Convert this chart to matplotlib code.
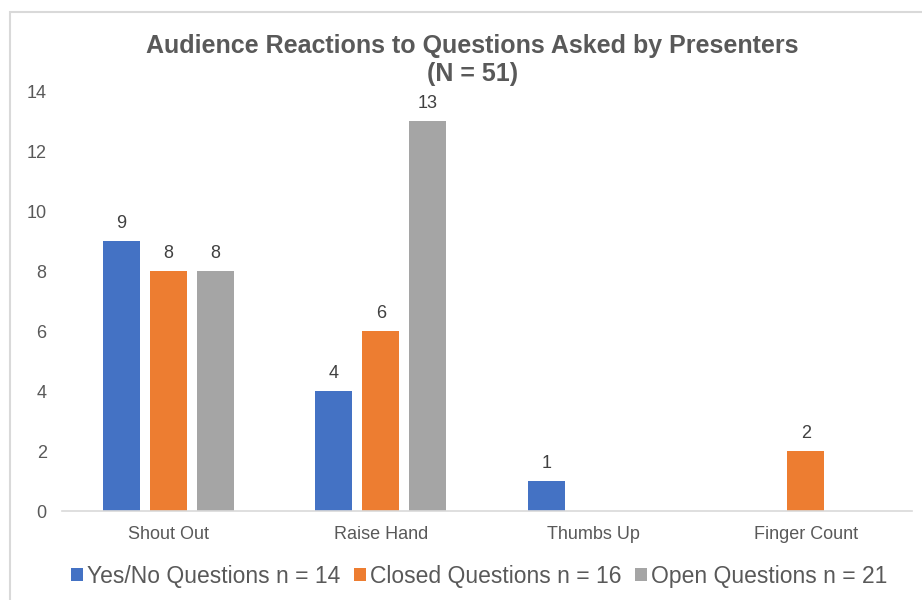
import matplotlib
matplotlib.use("Agg")
import matplotlib.pyplot as plt
import numpy as np
from matplotlib.patches import Rectangle

plt.rcParams['font.family'] = ['Liberation Sans', 'DejaVu Sans']

categories = ["Shout Out", "Raise Hand", "Thumbs Up", "Finger Count"]
series_names = ["Yes/No Questions n = 14", "Closed Questions n = 16", "Open Questions n = 21"]
yes_no = [9, 4, 1, 0]
closed = [8, 6, 0, 2]
open_q = [8, 13, 0, 0]
colors = ["#4472C4", "#ED7D31", "#A5A5A5"]

text_color = "#595959"

fig = plt.figure(figsize=(9.22, 6.0), dpi=100)
ax = fig.add_axes([0.0672, 0.148, 0.922, 0.70])

x = np.arange(len(categories))
width = 0.174
step = 0.221
for i, (vals, name, c) in enumerate(zip([yes_no, closed, open_q], series_names, colors)):
    pos = x + (i - 1) * step
    keep = [j for j, v in enumerate(vals) if v > 0]
    ax.bar(pos[keep], [vals[j] for j in keep], width, color=c, label=name)
    for j in keep:
        ax.text(pos[j], vals[j] + 0.3, str(vals[j]), ha="center", va="bottom",
                fontsize=13, color="#404040")

ax.set_xlim(-0.5, len(categories) - 0.5)
ax.set_ylim(0, 14)
ax.set_yticks(range(0, 15, 2))
ax.set_xticks(x)
ax.set_xticklabels(categories)
for s in ["top", "right", "left"]:
    ax.spines[s].set_visible(False)
ax.spines["bottom"].set_color("#D9D9D9")
ax.spines["bottom"].set_linewidth(1.2)
ax.tick_params(axis="both", length=0, labelsize=13, labelcolor=text_color)
ax.tick_params(axis="y", pad=11)
ax.tick_params(axis="x", pad=11)

fig.text(0.512, 0.9, "Audience Reactions to Questions Asked by Presenters\n(N = 51)",
         ha="center", va="center", fontsize=18, fontweight="bold", color=text_color,
         linespacing=1.25)

leg = fig.legend(loc="center", bbox_to_anchor=(0.52, 0.04), ncol=3, frameon=False,
                 fontsize=16.5, handlelength=0.5, handleheight=0.5, handletextpad=0.2,
                 columnspacing=0.6, labelcolor=text_color)

# chart area frame
fig.patches.append(Rectangle((10 / 922, -0.1), 1.0, 1 - 12 / 600 + 0.1,
                             transform=fig.transFigure, fill=False,
                             edgecolor="#D9D9D9", linewidth=1.5))

fig.savefig("out.png", dpi=100)
